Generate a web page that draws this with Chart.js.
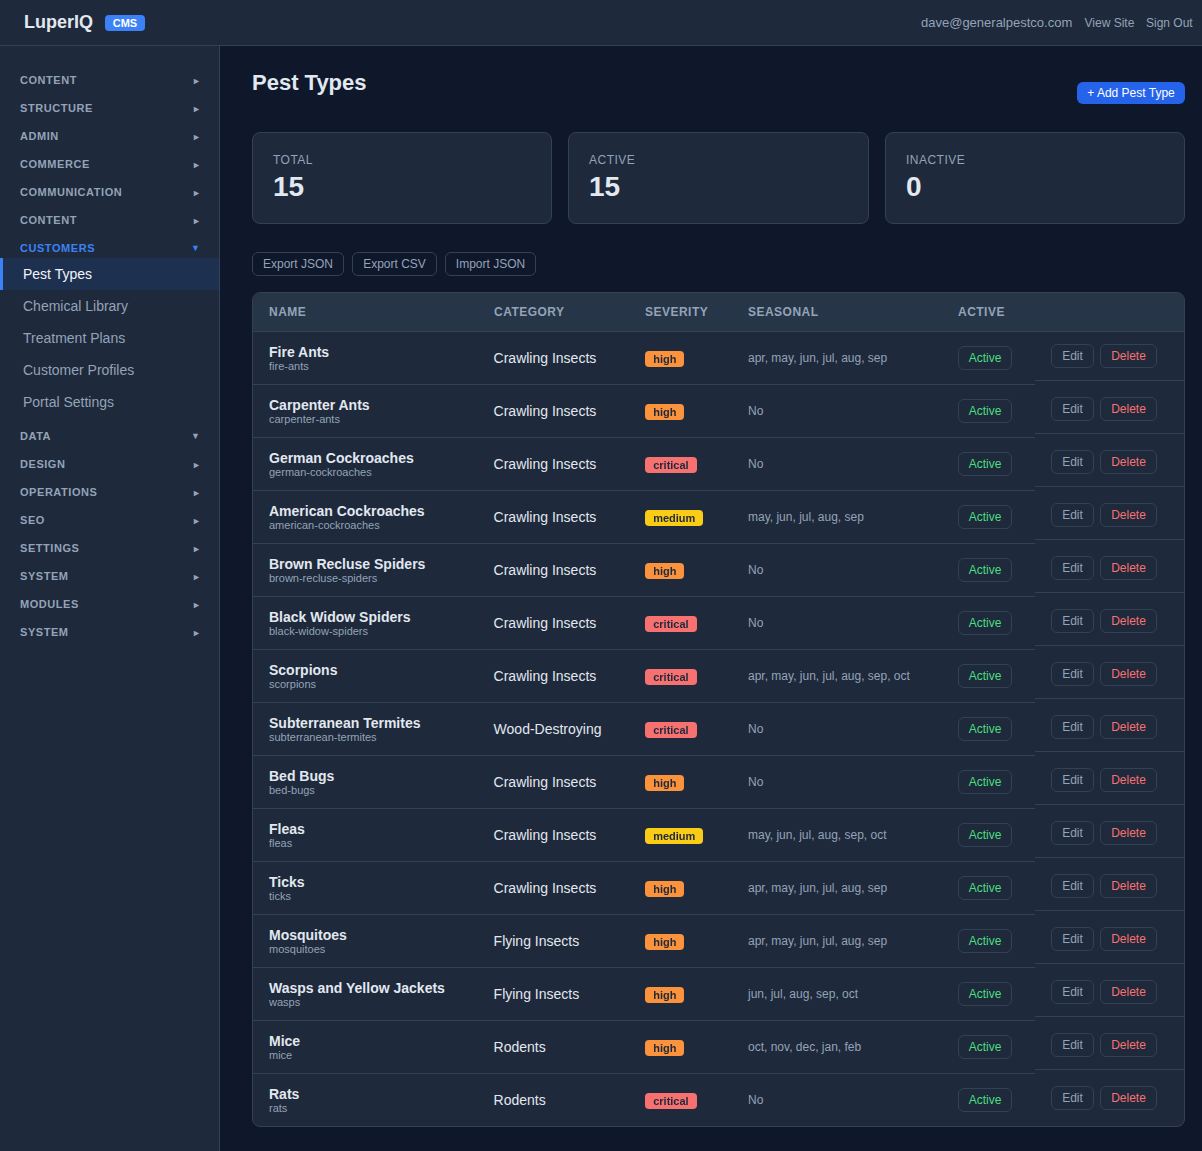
<!DOCTYPE html>
<html>
<head>
<meta charset="utf-8">
<title>Pest Types</title>
<script src="https://cdn.jsdelivr.net/npm/chart.js@4"></script>
<style>
  * { box-sizing: border-box; }
  html, body { margin: 0; height: 100%; overflow: hidden; }
  body { background: #0f172a; color: #e2e8f0; font-family: "Liberation Sans", Arial, sans-serif; position: relative; width: 1202px; height: 1151px; }
  .abs, .top > *, .nav > *, .main > * { position: absolute; white-space: nowrap; }

  /* top bar */
  .top { position: absolute; left: 0; top: 0; width: 1202px; height: 46px; background: #1e293b; border-bottom: 1px solid #334155; }
  .logo { left: 24px; top: 12px; font-size: 18px; line-height: 21px; font-weight: 700; color: #e2e8f0; }
  .cms { left: 105px; top: 15px; width: 40px; height: 16px; border-radius: 4px; background: #3b82f6; color: #fff; font-size: 11px; line-height: 16px; font-weight: 700; text-align: center; }
  .toplink { top: 15px; font-size: 12px; line-height: 16px; color: #94a3b8; }

  /* sidebar */
  .nav { position: absolute; left: 0; top: 46px; width: 220px; height: 1105px; background: #1e293b; border-right: 1px solid #334155; }
  .sec { left: 20px; font-size: 11px; line-height: 14px; font-weight: 700; letter-spacing: 0.55px; color: #94a3b8; }
  .sec.on { color: #3b82f6; }
  .arrow { left: 192px; margin-top: 1px; font-size: 9px; line-height: 14px; color: #94a3b8; }
  .arrow.open { left: 191px; margin-top: 0; }
  .arrow.on { color: #3b82f6; }
  .item { left: 0; width: 219px; height: 32px; padding-left: 23px; font-size: 14px; line-height: 32px; color: #94a3b8; }
  .item.on { background: #1e3050; color: #f1f5f9; border-left: 3px solid #3b82f6; padding-left: 20px; }

  /* main */
  .main { position: absolute; left: 0; top: 0; }
  .title { left: 252px; top: 70px; font-size: 22px; line-height: 26px; font-weight: 700; color: #e2e8f0; }
  .add { left: 1077px; top: 82px; width: 108px; height: 22px; border-radius: 6px; background: #2563eb; color: #fff; font-size: 12px; line-height: 22px; text-align: center; }
  .card { top: 132px; height: 92px; background: #1e293b; border: 1px solid #334155; border-radius: 8px; }
  .card b { position: absolute; left: 20px; top: 20px; font-size: 12px; line-height: 14px; font-weight: 400; letter-spacing: 0.48px; color: #94a3b8; }
  .card i { position: absolute; left: 20px; top: 37px; font-size: 28px; line-height: 34px; font-weight: 700; font-style: normal; color: #e2e8f0; }
  .tool { top: 252px; height: 24px; border: 1px solid #334155; border-radius: 6px; font-size: 12px; line-height: 22px; color: #94a3b8; text-align: center; }

  /* table */
  .table { left: 252px; top: 292px; width: 933px; height: 835px; background: #1e293b; border: 1px solid #334155; border-radius: 8px; overflow: hidden; }
  .thead { position: absolute; left: 0; top: 0; width: 931px; height: 39px; background: #273548; border-bottom: 1px solid #334155; }
  .th { position: absolute; top: 12px; font-size: 12px; line-height: 14px; font-weight: 700; letter-spacing: 0.48px; color: #94a3b8; white-space: nowrap; }
  .row { position: absolute; left: 0; width: 782px; height: 53px; border-bottom: 1px solid #334155; }
  .row:last-of-type { border-bottom: 0; }
  .row > * { position: absolute; white-space: nowrap; }
  .name { left: 16px; top: 12px; font-size: 14px; line-height: 17px; font-weight: 700; color: #e2e8f0; }
  .slug { left: 16px; top: 28px; font-size: 11px; line-height: 13px; color: #94a3b8; }
  .cat { left: 240.6px; top: 18px; font-size: 14px; line-height: 17px; color: #e2e8f0; }
  .season { left: 495px; top: 19px; font-size: 12px; line-height: 14px; color: #94a3b8; }
  .pill { left: 705px; top: 14px; width: 54px; height: 24px; border: 1px solid #334155; border-radius: 6px; font-size: 12px; line-height: 22px; text-align: center; color: #4ade80; }
  .acts { position: absolute; left: 782px; width: 149px; height: 53px; border-bottom: 1px solid #334155; }
  .acts > * { position: absolute; top: 16px; height: 24px; border: 1px solid #334155; border-radius: 6px; font-size: 12px; line-height: 22px; text-align: center; }
  .edit { left: 16px; width: 43px; color: #94a3b8; }
  .del { left: 65px; width: 57px; color: #f87171; }
  #severityChart { position: absolute; left: 645px; top: 332px; }
</style>
</head>
<body>
<div class="top" id="top"></div>
<div class="nav" id="nav"></div>
<div class="main" id="main"></div>
<canvas id="severityChart" width="70" height="795"></canvas>

<script>
// ── Data ──────────────────────────
const navTop = ['CONTENT', 'STRUCTURE', 'ADMIN', 'COMMERCE', 'COMMUNICATION', 'CONTENT', 'CUSTOMERS'];
const navSub = ['Pest Types', 'Chemical Library', 'Treatment Plans', 'Customer Profiles', 'Portal Settings'];
const navBottom = ['DATA', 'DESIGN', 'OPERATIONS', 'SEO', 'SETTINGS', 'SYSTEM', 'MODULES', 'SYSTEM'];

const statLabels = ['TOTAL', 'ACTIVE', 'INACTIVE'];
const statValues = [15, 15, 0];
const toolLabels = ['Export JSON', 'Export CSV', 'Import JSON'];
const columns = ['NAME', 'CATEGORY', 'SEVERITY', 'SEASONAL', 'ACTIVE'];

const names = ['Fire Ants', 'Carpenter Ants', 'German Cockroaches', 'American Cockroaches', 'Brown Recluse Spiders',
  'Black Widow Spiders', 'Scorpions', 'Subterranean Termites', 'Bed Bugs', 'Fleas', 'Ticks', 'Mosquitoes',
  'Wasps and Yellow Jackets', 'Mice', 'Rats'];
const slugs = ['fire-ants', 'carpenter-ants', 'german-cockroaches', 'american-cockroaches', 'brown-recluse-spiders',
  'black-widow-spiders', 'scorpions', 'subterranean-termites', 'bed-bugs', 'fleas', 'ticks', 'mosquitoes',
  'wasps', 'mice', 'rats'];
const categories = ['Crawling Insects', 'Crawling Insects', 'Crawling Insects', 'Crawling Insects', 'Crawling Insects',
  'Crawling Insects', 'Crawling Insects', 'Wood-Destroying', 'Crawling Insects', 'Crawling Insects', 'Crawling Insects',
  'Flying Insects', 'Flying Insects', 'Rodents', 'Rodents'];
const severities = ['high', 'high', 'critical', 'medium', 'high', 'critical', 'critical', 'critical', 'high', 'medium',
  'high', 'high', 'high', 'high', 'critical'];
const seasonal = ['apr, may, jun, jul, aug, sep', 'No', 'No', 'may, jun, jul, aug, sep', 'No', 'No',
  'apr, may, jun, jul, aug, sep, oct', 'No', 'No', 'may, jun, jul, aug, sep, oct', 'apr, may, jun, jul, aug, sep',
  'apr, may, jun, jul, aug, sep', 'jun, jul, aug, sep, oct', 'oct, nov, dec, jan, feb', 'No'];

const SEVERITY_COLOR = { high: '#fb923c', critical: '#f87171', medium: '#facc15' };

// ── Page shell ────────────────────
document.getElementById('top').innerHTML = `
  <div class="logo">LuperIQ</div>
  <div class="cms">CMS</div>
  <div class="toplink" style="left:921px;font-size:13px">dave@generalpestco.com</div>
  <div class="toplink" style="left:1084.5px">View Site</div>
  <div class="toplink" style="left:1146px">Sign Out</div>`;

const secRow = (label, y, open, on) => `
  <div class="sec${on ? ' on' : ''}" style="top:${y}px">${label}</div>
  <div class="arrow${open ? ' open' : ''}${on ? ' on' : ''}" style="top:${y}px">${open ? '▼' : '►'}</div>`;

document.getElementById('nav').innerHTML =
  navTop.map((s, i) => secRow(s, 27 + i * 28, s === 'CUSTOMERS', s === 'CUSTOMERS')).join('') +
  navSub.map((s, i) => `<div class="item${i === 0 ? ' on' : ''}" style="top:${212 + i * 32}px">${s}</div>`).join('') +
  navBottom.map((s, i) => secRow(s, 383 + i * 28, s === 'DATA', false)).join('');

const cardX = [252, 568, 885], cardW = [300, 301, 300];
const toolX = [252, 352, 445], toolW = [92, 85, 91];

document.getElementById('main').innerHTML = `
  <div class="title">Pest Types</div>
  <div class="add">+ Add Pest Type</div>
  ${statLabels.map((s, i) => `<div class="card" style="left:${cardX[i]}px;width:${cardW[i]}px"><b>${s}</b><i>${statValues[i]}</i></div>`).join('')}
  ${toolLabels.map((s, i) => `<div class="tool" style="left:${toolX[i]}px;width:${toolW[i]}px">${s}</div>`).join('')}
  <div class="table">
    <div class="thead">${columns.map((c, i) => `<div class="th" style="left:${[16, 241, 392, 495, 705][i]}px">${c}</div>`).join('')}</div>
    ${names.map((n, i) => `
      <div class="row" style="top:${39 + i * 53}px">
        <div class="name">${n}</div>
        <div class="slug">${slugs[i]}</div>
        <div class="cat">${categories[i]}</div>
        <div class="season">${seasonal[i]}</div>
        <div class="pill">Active</div>
      </div>
      <div class="acts" style="top:${35 + i * 53}px;${i === names.length - 1 ? 'border-bottom:0' : ''}">
        <div class="edit">Edit</div><div class="del">Delete</div>
      </div>`).join('')}
  </div>`;

// ── Severity badges ───────────────
const badgePlugin = {
  id: 'badges',
  afterDatasetsDraw(chart) {
    const { ctx } = chart;
    ctx.save();
    ctx.font = "700 11px 'Liberation Sans', Arial, sans-serif";
    ctx.textBaseline = 'middle';
    chart.getDatasetMeta(0).data.forEach((pt, i) => {
      const label = severities[i];
      // column starts a fraction past the pixel, so badge ends snap like the reference
      const w = Math.round(pt.x + 0.2 + ctx.measureText(label).width + 16) - Math.round(pt.x);
      const top = Math.round(pt.y) - 8;
      ctx.fillStyle = SEVERITY_COLOR[label];
      ctx.beginPath();
      ctx.roundRect(Math.round(pt.x), top, w, 16, 4);
      ctx.fill();
      ctx.fillStyle = '#1e293b';
      ctx.fillText(label, pt.x + 8.2, top + 8.5);
    });
    ctx.restore();
  },
};

new Chart(document.getElementById('severityChart'), {
  type: 'scatter',
  data: {
    datasets: [{
      data: slugs.map(s => ({ x: 'Severity', y: s })),
      pointRadius: 0,
    }],
  },
  options: {
    responsive: false,
    animation: false,
    events: [],
    layout: { padding: 0 },
    plugins: { legend: { display: false }, tooltip: { enabled: false } },
    scales: {
      x: { type: 'category', labels: ['Severity'], display: false, offset: false },
      y: { type: 'category', labels: slugs, display: false, offset: true },
    },
  },
  plugins: [badgePlugin],
});
</script>
</body>
</html>
